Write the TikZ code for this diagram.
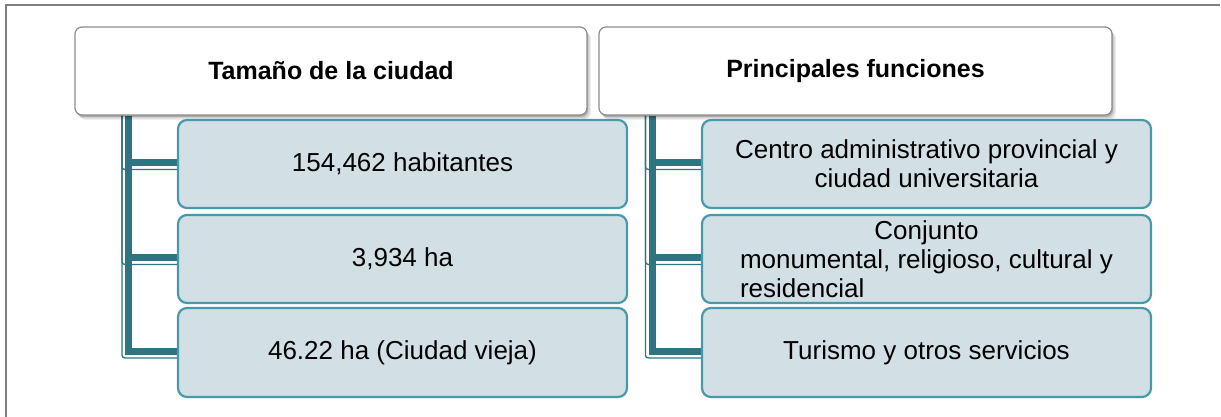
\documentclass[tikz,border=0pt]{standalone}
\usepackage{fontspec}
\setmainfont{Liberation Sans}
\usetikzlibrary{shadows,calc,backgrounds}
\definecolor{hdrborder}{RGB}{140,140,140}
\definecolor{kidfill}{RGB}{210,223,229}
\definecolor{kidborder}{RGB}{72,153,172}
\definecolor{conn}{RGB}{46,116,130}
\definecolor{framegray}{RGB}{128,128,128}
\newlength\rlen
\tikzset{
  header/.style={draw=hdrborder, line width=1.2pt, fill=white, rounded corners=7pt,
    minimum height=88pt, inner sep=0pt, font=\bfseries\fontsize{25}{30}\selectfont,
    drop shadow={shadow xshift=1pt, shadow yshift=-2pt, opacity=0.18, fill=black},
    drop shadow={shadow xshift=2.5pt, shadow yshift=-3.5pt, opacity=0.12, fill=black},
    drop shadow={shadow xshift=4pt, shadow yshift=-5pt, opacity=0.07, fill=black}},
  kid/.style={draw=kidborder, line width=2.2pt, fill=kidfill, rounded corners=9pt,
    minimum width=449pt, minimum height=88pt, inner sep=0pt, align=center,
    font=\fontsize{26}{29}\selectfont},
  thickconn/.style={draw=conn, line width=7pt},
  thinconn/.style={draw=conn, line width=1.3pt, rounded corners=3pt},
  framelin/.style={draw=framegray, line width=2pt}
}
\begin{document}
\begin{tikzpicture}[x=1pt,y=-1pt]
\useasboundingbox (0,0) rectangle (1221,417);
\draw[framelin] (5,5) -- (1220,5);
\draw[framelin] (6,5) -- (6,417);

\node[header, minimum width=512pt] (hl) at (331,71) {Tamaño de la ciudad};
\node[header, minimum width=513pt] (hr) at (855.5,71) {Principales funciones};

\node[kid] (l1) at (402.5,164) {154,462 habitantes};
\node[kid] (l2) at (402.5,259) {3,934 ha};
\node[kid, minimum height=89pt] (l3) at (402.5,352.5) {46.22 ha (Ciudad vieja)};

\node[kid] (r1) at (926.5,164) {Centro administrativo provincial y\\ciudad universitaria};
\node[kid] (r2) at (926.5,259) {\settowidth{\rlen}{monumental, religioso, cultural y}\global\rlen=\rlen Conjunto\\monumental, religioso, cultural y\\\makebox[\rlen][l]{residencial}};
\node[kid, minimum height=89pt] (r3) at (926.5,352.5) {Turismo y otros servicios};

\begin{scope}[on background layer]
  \foreach \c in {l1,l2,l3}{
    \draw[thinconn] ($(hl.south west)+(47.5,0)$) |- ($(\c.west)+(0,5.5)$);
    \draw[thickconn] ($(hl.south west)+(54.5,0)$) |- ($(\c.west)+(0,-1.5)$);
  }
  \foreach \c in {r1,r2,r3}{
    \draw[thinconn] ($(hr.south west)+(47,0)$) |- ($(\c.west)+(0,5.5)$);
    \draw[thickconn] ($(hr.south west)+(54,0)$) |- ($(\c.west)+(0,-1.5)$);
  }
\end{scope}
\end{tikzpicture}
\end{document}
